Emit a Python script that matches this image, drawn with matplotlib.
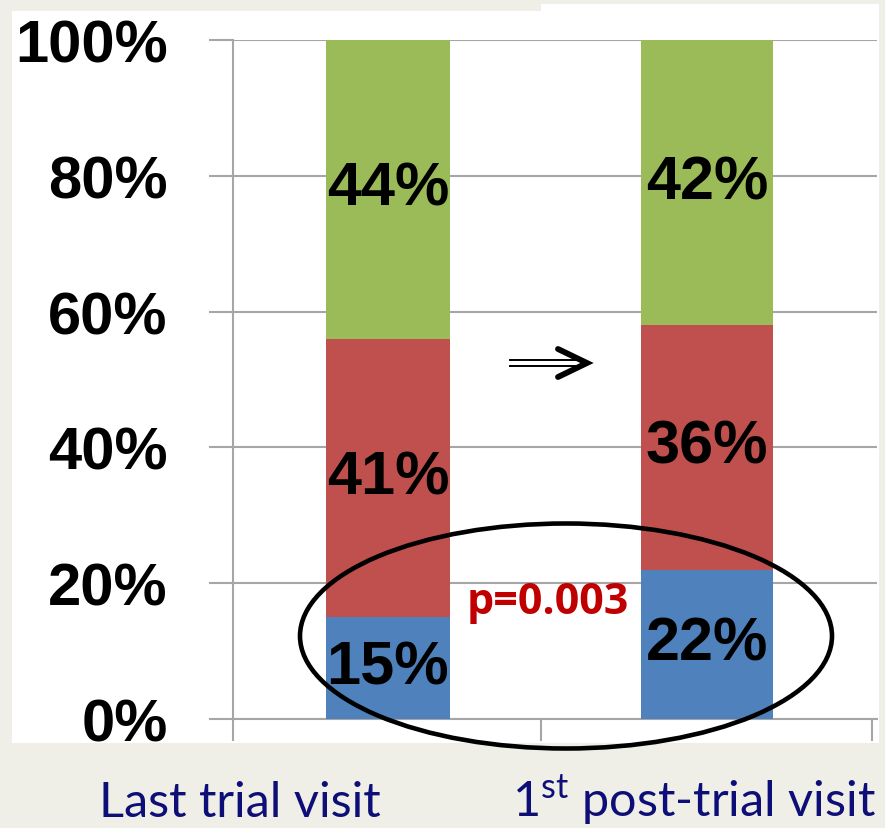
import matplotlib
matplotlib.use("Agg")
import matplotlib.pyplot as plt
from matplotlib.patches import Rectangle, Ellipse
from matplotlib.lines import Line2D

categories = ["Last trial visit", "1$^{\\mathrm{st}}$ post-trial visit"]
blue_vals = [15, 22]
red_vals = [41, 36]
green_vals = [44, 42]
yticks = [0, 20, 40, 60, 80, 100]
ytick_labels = ["0%", "20%", "40%", "60%", "80%", "100%"]
p_text = "p=0.003"

W, H = 885, 829
plt.rcParams["mathtext.fontset"] = "custom"
plt.rcParams["mathtext.rm"] = "Lato"

fig = plt.figure(figsize=(W / 100, H / 100), dpi=100, facecolor="#efefe7")


def fx(x):
    return x / W


def fy(y):
    return 1 - y / H


# white chart panels (the picture is two pasted pieces)
fig.add_artist(Rectangle((fx(12), fy(744)), fx(541) - fx(12), fy(12) - fy(744),
                         transform=fig.transFigure, facecolor="white", edgecolor="none", zorder=0))
fig.add_artist(Rectangle((fx(541), fy(744)), fx(879) - fx(541), fy(5) - fy(744),
                         transform=fig.transFigure, facecolor="white", edgecolor="none", zorder=0))

ax = fig.add_axes([fx(233), fy(720), fx(877) - fx(233), fy(41) - fy(720)])
ax.set_facecolor("none")
ax.set_zorder(1)

x = [0.503, 1.539]
w = [0.40, 0.43]
bot_red = [b for b in blue_vals]
bot_green = [b + r for b, r in zip(blue_vals, red_vals)]
ax.bar(x, blue_vals, w, color="#4f81bd", zorder=3)
ax.bar(x, red_vals, w, bottom=bot_red, color="#c0504d", zorder=3)
ax.bar(x, green_vals, w, bottom=bot_green, color="#9bbb59", zorder=3)

for i in range(2):
    for val, base in ((blue_vals[i], 0), (red_vals[i], bot_red[i]), (green_vals[i], bot_green[i])):
        ax.text(x[i], base + val / 2, f"{val}%", ha="center", va="center",
                fontsize=44, fontweight="bold", family="Liberation Sans", color="black", zorder=4)

ax.set_xlim(0, 644 / 308)
ax.set_ylim(0, 100)
ax.set_yticks(yticks)
ax.set_yticklabels(ytick_labels, fontsize=43, fontweight="bold", family="Liberation Sans")
ax.set_xticks([0, 1, 639 / 308])
ax.set_xticklabels([])
ax.grid(axis="y", color="#a6a6a6", linewidth=1.5, zorder=1)
ax.tick_params(axis="y", length=17, width=1.5, color="#a6a6a6", pad=30)
ax.tick_params(axis="x", length=16, width=1.5, color="#a6a6a6")
for s in ["top", "right"]:
    ax.spines[s].set_visible(False)
for s in ["left", "bottom"]:
    ax.spines[s].set_color("#a6a6a6")
    ax.spines[s].set_linewidth(1.5)

# category labels below the panels
ax_lbl = [(240, categories[0]), (694, categories[1])]
for cx, lab in ax_lbl:
    fig.text(fx(cx), fy(817), lab, ha="center", va="baseline", fontsize=35,
             family="Lato", color="#0e0e78")

# double-shaft arrow between bars
for yy in (361, 367):
    fig.add_artist(Line2D([fx(510), fx(584)], [fy(yy), fy(yy)], transform=fig.transFigure,
                          color="black", linewidth=1.4, zorder=5))
fig.add_artist(Line2D([fx(558), fx(587), fx(558)], [fy(350), fy(364), fy(378)],
                      transform=fig.transFigure, color="black", linewidth=4.2,
                      solid_capstyle="round", solid_joinstyle="miter", zorder=5))

# p-value and ellipse
fig.text(fx(548), fy(603), p_text, ha="center", va="center", fontsize=31,
         fontweight="bold", family="Open Sans", color="#c00000", zorder=6)
fig.add_artist(Ellipse((fx(566), fy(637)), fx(532), 225 / H, transform=fig.transFigure,
                       facecolor="none", edgecolor="black", linewidth=3.3, zorder=7))

fig.savefig("out.png", dpi=100, facecolor=fig.get_facecolor())
